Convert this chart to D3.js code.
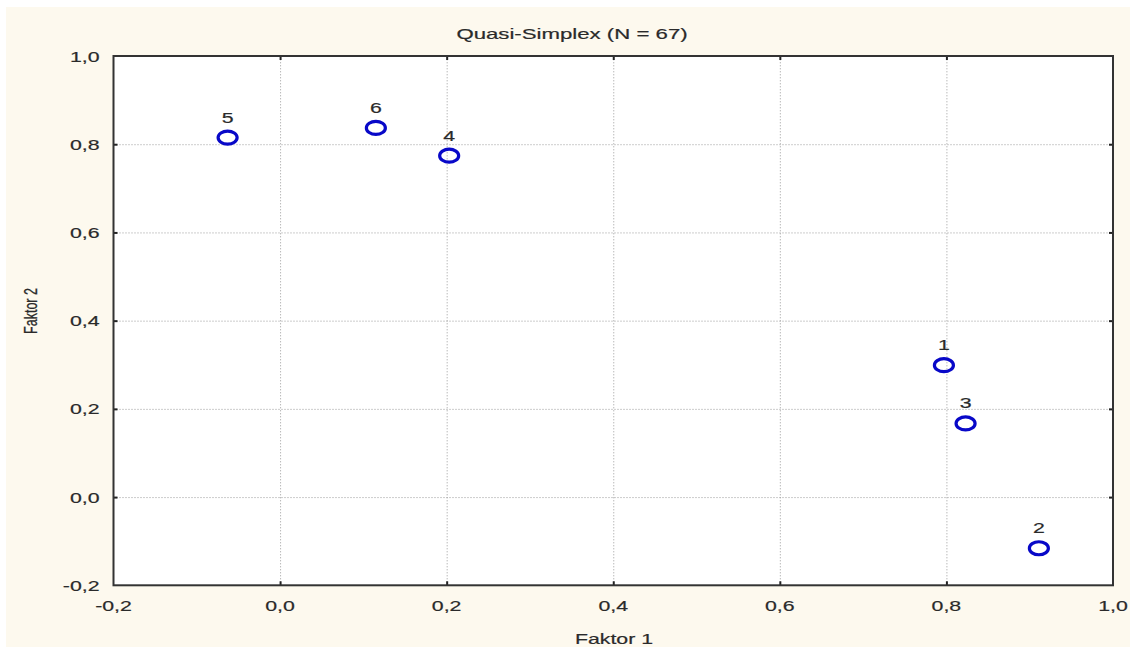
<!DOCTYPE html>
<html>
<head>
<meta charset="utf-8">
<script src="https://cdn.jsdelivr.net/npm/d3@7"></script>
<style>
  html, body { margin: 0; padding: 0; background: #ffffff; }
  svg { display: block; }
  text { font-family: "Liberation Sans", Arial, sans-serif; fill: #2a2a2a; stroke: #2a2a2a; stroke-width: 0.2px; }
</style>
</head>
<body>
<svg id="chart" width="1132" height="649"></svg>
<script>
// ---- data ----
const pointLabels = ["1", "2", "3", "4", "5", "6"];
const factor1 = [0.797, 0.911, 0.823, 0.203, -0.063, 0.115];
const factor2 = [0.299, -0.116, 0.167, 0.774, 0.815, 0.837];
const xTicks = [-0.2, 0.0, 0.2, 0.4, 0.6, 0.8, 1.0];
const yTicks = [-0.2, 0.0, 0.2, 0.4, 0.6, 0.8, 1.0];
const chartTitle = "Quasi-Simplex (N = 67)";
const xTitle = "Faktor 1";
const yTitle = "Faktor 2";

// ---- layout ----
const W = 1132, H = 649;
const plot = { left: 113.5, right: 1113, top: 56, bottom: 585.3 };
const SX = 1.42; // horizontal stretch of glyphs in the reference

const svg = d3.select("#chart");
svg.append("rect").attr("x", 6).attr("y", 7).attr("width", 1124).attr("height", 640)
  .attr("fill", "#fdf9ee");
svg.append("rect").attr("x", plot.left).attr("y", plot.top)
  .attr("width", plot.right - plot.left).attr("height", plot.bottom - plot.top)
  .attr("fill", "#ffffff");

const x = d3.scaleLinear().domain([-0.2, 1.0]).range([plot.left, plot.right]);
const y = d3.scaleLinear().domain([-0.2, 1.0]).range([plot.bottom, plot.top]);
const fmt = v => d3.format(".1f")(v).replace(".", ",").replace("\u2212", "-");

const pw = plot.right - plot.left, ph = plot.bottom - plot.top;
const innerX = xTicks.filter(v => v > -0.2 + 1e-9 && v < 1.0 - 1e-9);
const innerY = yTicks.filter(v => v > -0.2 + 1e-9 && v < 1.0 - 1e-9);

// grid
const gx = svg.append("g").attr("transform", `translate(0,${plot.bottom})`)
  .call(d3.axisBottom(x).tickValues(innerX).tickSize(-ph).tickFormat(""));
const gy = svg.append("g").attr("transform", `translate(${plot.left},0)`)
  .call(d3.axisLeft(y).tickValues(innerY).tickSize(-pw).tickFormat(""));
[gx, gy].forEach(g => {
  g.select(".domain").remove();
  g.selectAll("line").attr("stroke", "#9a9a9a").attr("stroke-width", 1)
    .attr("stroke-dasharray", "1,2");
});

// tick marks (inward, all four sides)
const tickLen = 4;
const axes = [
  [d3.axisBottom(x).tickValues(innerX), `translate(0,${plot.bottom})`],
  [d3.axisTop(x).tickValues(innerX), `translate(0,${plot.top})`],
  [d3.axisLeft(y).tickValues(innerY), `translate(${plot.left},0)`],
  [d3.axisRight(y).tickValues(innerY), `translate(${plot.right},0)`]
];
axes.forEach(([ax, tr]) => {
  const g = svg.append("g").attr("transform", tr)
    .call(ax.tickSizeInner(-tickLen).tickSizeOuter(0).tickFormat(""));
  g.select(".domain").remove();
  g.selectAll("line").attr("stroke", "#222").attr("stroke-width", 2);
});

// frame
svg.append("rect").attr("x", plot.left).attr("y", plot.top)
  .attr("width", pw).attr("height", ph)
  .attr("fill", "none").attr("stroke", "#333").attr("stroke-width", 2);

// stretched text helper
function stext(txt, px, py, size, anchor, sx, rot) {
  return svg.append("text")
    .attr("transform", `translate(${px},${py}) scale(${sx},1)` + (rot ? ` rotate(${rot})` : ""))
    .attr("font-size", size).attr("text-anchor", anchor).text(txt);
}

// tick labels
xTicks.forEach(v => stext(fmt(v), x(v), 611, 15, "middle", SX));
yTicks.forEach(v => stext(fmt(v), 99.5, y(v) + 5.5, 15, "end", SX));

// titles
stext(chartTitle, 572, 39, 15, "middle", 1.48);
stext(xTitle, 614, 644, 15, "middle", SX);
stext(yTitle, 37, 311, 12.5, "middle", SX, -90);

// points
const pts = pointLabels.map((l, i) => ({ label: l, fx: factor1[i], fy: factor2[i] }));
svg.append("g").selectAll("ellipse").data(pts).join("ellipse")
  .attr("cx", d => x(d.fx)).attr("cy", d => y(d.fy))
  .attr("rx", 9.5).attr("ry", 6.5)
  .attr("fill", "none").attr("stroke", "#0808c8").attr("stroke-width", 3.2);
pts.forEach(d => stext(d.label, x(d.fx), y(d.fy) - 15, 15, "middle", SX));
</script>
</body>
</html>
